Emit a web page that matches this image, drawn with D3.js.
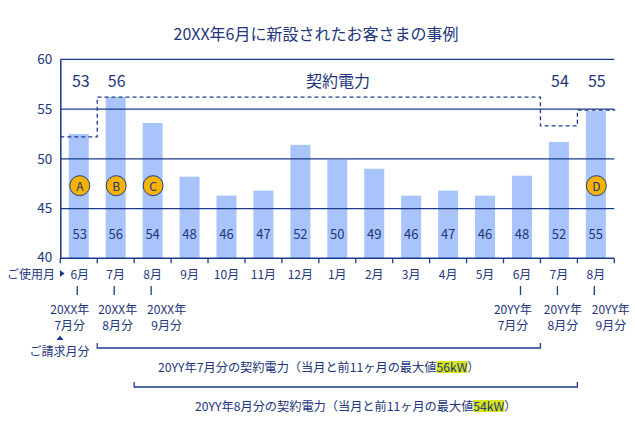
<!DOCTYPE html>
<html><head><meta charset="utf-8">
<script src="https://cdn.jsdelivr.net/npm/d3@7"></script>
<style>
html,body{margin:0;padding:0;background:#fff;}
svg{display:block;font-family:"Noto Sans CJK JP","Noto Sans",sans-serif;}
</style></head>
<body>
<svg id="chart" width="635" height="430"></svg>
<script>
// ---- data ----
const months = ["6月","7月","8月","9月","10月","11月","12月","1月","2月","3月","4月","5月","6月","7月","8月"];
const usage = [52.5, 56.2, 53.6, 48.2, 46.3, 46.8, 51.4, 49.9, 49.0, 46.3, 46.8, 46.3, 48.3, 51.7, 54.8];
const usageLabels = [53, 56, 54, 48, 46, 47, 52, 50, 49, 46, 47, 46, 48, 52, 55];
const contractLevel = [52.2, 56.2, 56.2, 56.2, 56.2, 56.2, 56.2, 56.2, 56.2, 56.2, 56.2, 56.2, 56.2, 53.3, 54.9];
const contractLabelIdx = [0, 1, 13, 14];
const contractLabelVals = [53, 56, 54, 55];
const markerIdx = [0, 1, 2, 14];
const markerLetters = ["A", "B", "C", "D"];
const billIdx = [0, 1, 2, 12, 13, 14];
const billYear = ["20XX年", "20XX年", "20XX年", "20YY年", "20YY年", "20YY年"];
const billMonth = ["7月分", "8月分", "9月分", "7月分", "8月分", "9月分"];
const yTicks = [40, 45, 50, 55, 60];
const brackets = [
  {from: 1, to: 13, pre: "20YY年7月分の契約電力（当月と前11ヶ月の最大値", hl: "56kW", post: "）"},
  {from: 2, to: 14, pre: "20YY年8月分の契約電力（当月と前11ヶ月の最大値", hl: "54kW", post: "）"}
];
const title = "20XX年6月に新設されたお客さまの事例";

// ---- style ----
const NAVY = "#1b3a8c";
const TEXT = "#22357a";
const BAR = "#a9c4fb";
const GOLD = "#f6b400";
const HL = "#d6e41c";

const svg = d3.select("#chart");
const pLeft = 60.3, pRight = 614.3, pTop = 59.3, pBottom = 258.3;
const x = d3.scaleBand().domain(d3.range(months.length)).range([pLeft, pRight]).padding(0);
const y = d3.scaleLinear().domain([40, 60]).range([pBottom, pTop]);
const bw = x.bandwidth();
const barW = 20;

// title
svg.append("text").attr("x", 316).attr("y", 33).attr("text-anchor", "middle")
  .attr("dominant-baseline", "central").attr("font-size", 16).attr("fill", TEXT).text(title);

// bars
svg.append("g").selectAll("rect").data(usage).join("rect")
  .attr("x", (d, i) => x(i) + (bw - barW) / 2)
  .attr("y", d => y(d))
  .attr("width", barW)
  .attr("height", d => y(40) - y(d))
  .attr("fill", BAR);

// gridlines
svg.append("g").selectAll("line").data(yTicks.filter(t => t > 40)).join("line")
  .attr("x1", pLeft).attr("x2", pRight)
  .attr("y1", d => y(d)).attr("y2", d => y(d))
  .attr("stroke", NAVY).attr("stroke-width", 1.3);

// y axis
const yAxis = svg.append("g").attr("transform", `translate(${pLeft},0)`)
  .call(d3.axisLeft(y).tickValues(yTicks).tickSize(0).tickPadding(8));
yAxis.select(".domain").attr("stroke", NAVY).attr("stroke-width", 1.5);
yAxis.selectAll("text").attr("font-size", 13.5).attr("fill", TEXT).attr("font-family", "Noto Sans CJK JP");
yAxis.selectAll(".tick").filter(d => d === 40).select("text").attr("dy", "0.2em");

// x axis: line with boundary ticks
const xAxisG = svg.append("g");
xAxisG.append("line").attr("x1", pLeft).attr("x2", pRight).attr("y1", pBottom).attr("y2", pBottom)
  .attr("stroke", NAVY).attr("stroke-width", 1.5);
const bounds = d3.range(months.length + 1).map(i => i < months.length ? x(i) : pRight);
xAxisG.selectAll("line.tk").data(bounds).join("line").attr("class", "tk")
  .attr("x1", d => d).attr("x2", d => d).attr("y1", pBottom).attr("y2", pBottom + 5)
  .attr("stroke", NAVY).attr("stroke-width", 1.3);
xAxisG.selectAll("text").data(months).join("text")
  .attr("x", (d, i) => x(i) + bw / 2 + (i === 0 ? 1 : 0)).attr("y", 273.5)
  .attr("text-anchor", "middle").attr("dominant-baseline", "central")
  .attr("font-size", 12).attr("fill", TEXT).text(d => d);

// "ご使用月" label and arrow
svg.append("text").attr("x", 55).attr("y", 273.5).attr("text-anchor", "end")
  .attr("dominant-baseline", "central").attr("font-size", 12).attr("fill", TEXT).text("ご使用月");
svg.append("path").attr("d", "M60,270 L64.5,273.5 L60,277 Z").attr("fill", NAVY);

// in-bar labels
svg.append("g").selectAll("text").data(usageLabels).join("text")
  .attr("x", (d, i) => x(i) + bw / 2 + (i === 0 ? 1 : 0)).attr("y", 233)
  .attr("text-anchor", "middle").attr("dominant-baseline", "central")
  .attr("font-size", 13).attr("fill", TEXT).text(d => d);

// contract power dashed step line
const stepPts = contractLevel.map((v, i) => [x(i), y(v)]);
stepPts.push([pRight + 1, y(contractLevel[contractLevel.length - 1])]);
svg.append("path").datum(stepPts)
  .attr("d", d3.line().curve(d3.curveStepAfter))
  .attr("fill", "none").attr("stroke", NAVY).attr("stroke-width", 1.3)
  .attr("stroke-dasharray", "4,3");

// contract labels
svg.append("g").selectAll("text").data(contractLabelVals).join("text")
  .attr("x", (d, i) => x(contractLabelIdx[i]) + bw / 2 + (i === 0 ? 2 : 1)).attr("y", 80)
  .attr("text-anchor", "middle").attr("dominant-baseline", "central")
  .attr("font-size", 16).attr("fill", TEXT).text(d => d);
svg.append("text").attr("x", 338).attr("y", 80).attr("text-anchor", "middle")
  .attr("dominant-baseline", "central").attr("font-size", 16).attr("fill", TEXT).text("契約電力");

// markers
const mk = svg.append("g").selectAll("g").data(markerLetters).join("g")
  .attr("transform", (d, i) => `translate(${x(markerIdx[i]) + bw / 2 + (i === 0 ? 1 : 0.5)},${y(47.3)})`);
mk.append("circle").attr("r", 10).attr("fill", GOLD).attr("stroke", NAVY).attr("stroke-width", 1);
mk.append("text").attr("text-anchor", "middle").attr("dominant-baseline", "central")
  .attr("font-size", 12).attr("fill", TEXT).text(d => d);

// billing labels
const billOffsets = [-9, 2, 14, -9, 4, 15];
const bl = svg.append("g").selectAll("g").data(billIdx).join("g");
bl.append("line")
  .attr("x1", d => x(d) + bw / 2 - 1.5).attr("x2", d => x(d) + bw / 2 - 1.5)
  .attr("y1", 286).attr("y2", 295).attr("stroke", NAVY).attr("stroke-width", 1.3);
bl.append("text").attr("x", (d, i) => x(d) + bw / 2 + billOffsets[i]).attr("y", 308)
  .attr("text-anchor", "middle").attr("dominant-baseline", "central")
  .attr("font-size", 12).attr("fill", TEXT).text((d, i) => billYear[i]);
bl.append("text").attr("x", (d, i) => x(d) + bw / 2 + billOffsets[i]).attr("y", 324)
  .attr("text-anchor", "middle").attr("dominant-baseline", "central")
  .attr("font-size", 12).attr("fill", TEXT).text((d, i) => billMonth[i]);

// ご請求月分
svg.append("path").attr("d", "M60,335.5 L63.5,340 L56.5,340 Z").attr("fill", NAVY);
svg.append("text").attr("x", 59.5).attr("y", 350).attr("text-anchor", "middle")
  .attr("dominant-baseline", "central").attr("font-size", 12).attr("fill", TEXT).text("ご請求月分");

// brackets
const bY = [348, 387];
const tY = [367, 406];
brackets.forEach((b, k) => {
  const x1 = x(b.from), x2 = b.to < months.length ? x(b.to) : pRight;
  svg.append("path")
    .attr("d", `M${x1},${bY[k] - 5} L${x1},${bY[k]} L${x2},${bY[k]} L${x2},${bY[k] - 5}`)
    .attr("fill", "none").attr("stroke", NAVY).attr("stroke-width", 1.3);
  const cx = (x1 + x2) / 2;
  const g = svg.append("g");
  const rect = g.append("rect").attr("fill", HL);
  const t = g.append("text").attr("y", tY[k]).attr("dominant-baseline", "central")
    .attr("font-size", 12.2).attr("fill", TEXT).text(b.pre + b.hl + b.post);
  const full = t.node().getComputedTextLength();
  const sx = cx - full / 2;
  t.attr("x", sx);
  const preW = t.node().getSubStringLength(0, b.pre.length);
  const hlW = t.node().getSubStringLength(b.pre.length, b.hl.length);
  rect.attr("x", sx + preW).attr("y", tY[k] - 6).attr("width", hlW).attr("height", 12);
});
</script>
</body></html>
